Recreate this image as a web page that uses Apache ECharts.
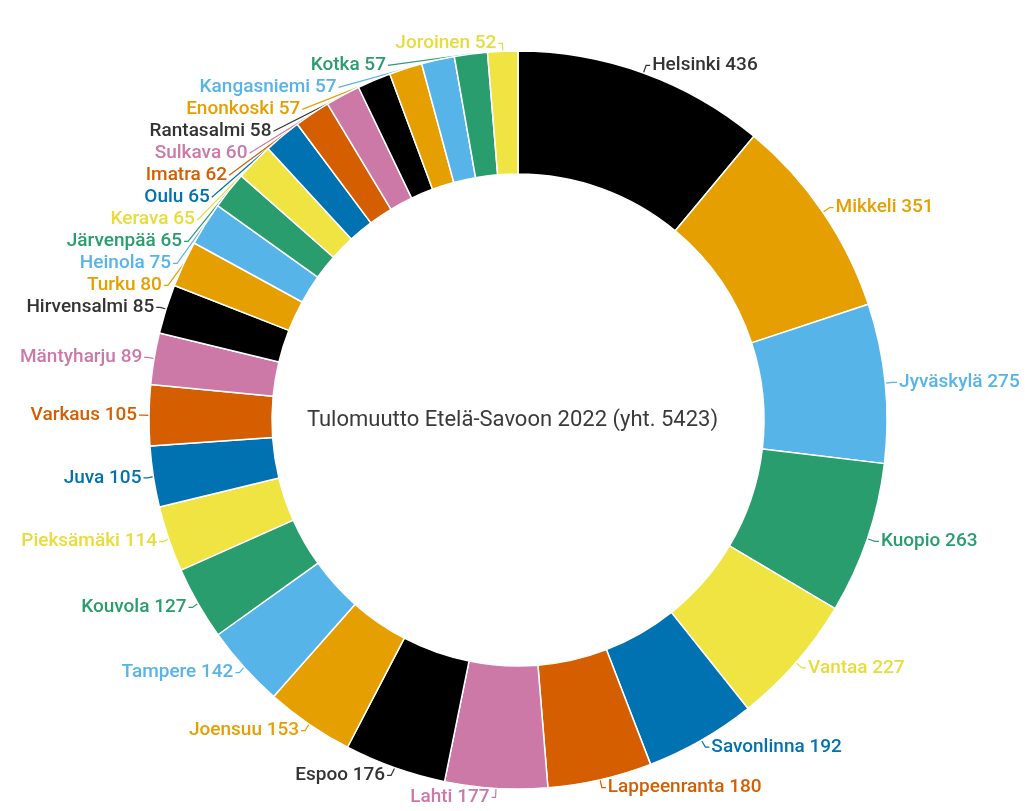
<!DOCTYPE html>
<html>
<head>
<meta charset="utf-8">
<script src="https://cdn.jsdelivr.net/npm/echarts@6/dist/echarts.min.js"></script>
<style>html,body{margin:0;padding:0;background:#fff}#c{width:1025px;height:811px}</style>
</head>
<body>
<div id="c"></div>
<script>
const categories = ["Helsinki","Mikkeli","Jyväskylä","Kuopio","Vantaa","Savonlinna","Lappeenranta","Lahti","Espoo","Joensuu","Tampere","Kouvola","Pieksämäki","Juva","Varkaus","Mäntyharju","Hirvensalmi","Turku","Heinola","Järvenpää","Kerava","Oulu","Imatra","Sulkava","Rantasalmi","Enonkoski","Kangasniemi","Kotka","Joroinen"];
const values = [436,351,275,263,227,192,180,177,176,153,142,127,114,105,105,89,85,80,75,65,65,65,62,60,58,57,57,57,52];
const centerText = "Tulomuutto Etelä-Savoon 2022 (yht. 5423)";
const palette = ["#000000","#E69F00","#56B4E9","#2A9D6F","#F0E442","#0072B2","#D55E00","#CC79A7"];
const labelPalette = ["#333333","#E69F00","#56B4E9","#2A9D6F","#E8DC3A","#0072B2","#D55E00","#CC79A7"];

const data = categories.map((name, i) => ({
  name: name,
  value: values[i],
  itemStyle: { color: palette[i % palette.length] },
  label: { color: labelPalette[i % labelPalette.length] },
  labelLine: { lineStyle: { color: labelPalette[i % labelPalette.length] } }
}));

const chart = echarts.init(document.getElementById('c'), null, {renderer: 'canvas'});
chart.setOption({
  animation: false,
  graphic: [{
    type: 'text',
    left: 'center',
    top: 409,
    style: { text: centerText, fontSize: 22, fill: '#3a3a3a', fontFamily: 'Roboto' }
  }],
  series: [{
    type: 'pie',
    center: [518, 420],
    radius: [246, 369],
    startAngle: 90,
    clockwise: true,
    avoidLabelOverlap: true,
    minShowLabelAngle: 0,
    itemStyle: { borderColor: '#fff', borderWidth: 1.5 },
    label: {
      show: true,
      position: 'outside',
      formatter: '{b} {c}',
      fontSize: 19,
      fontWeight: 500,
      fontFamily: 'Roboto',
      distanceToLabelLine: 2,
      lineHeight: 20,
      overflow: 'none'
    },
    labelLine: { show: true, length: 8, length2: 4, lineStyle: { width: 1.2 } },
    emphasis: { disabled: true },
    data: data
  }]
});
</script>
</body>
</html>
